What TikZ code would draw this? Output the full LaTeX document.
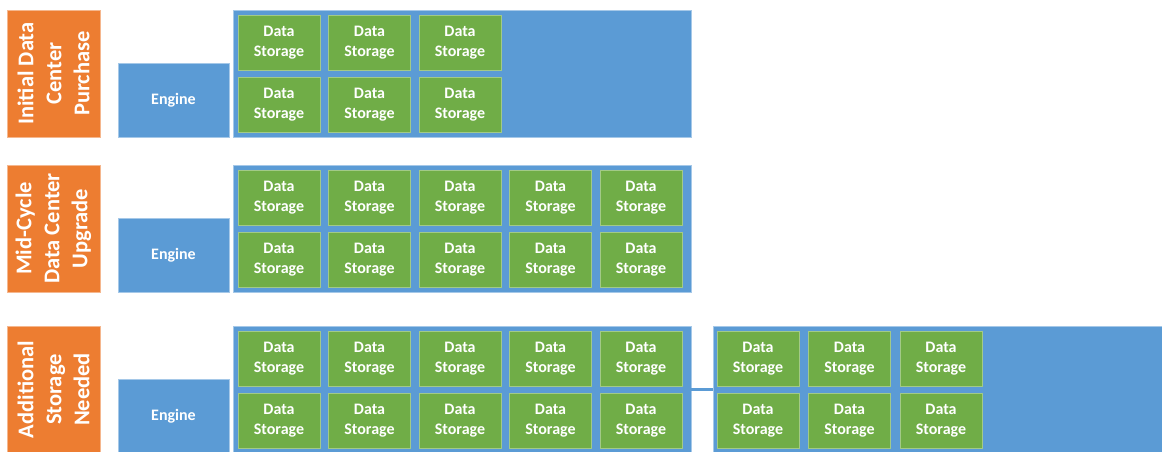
\documentclass[tikz,border=0pt]{standalone}
\usepackage{fontspec}
\setmainfont{Carlito}
\usetikzlibrary{positioning}

\definecolor{phase}{HTML}{ED7D31}
\definecolor{rack}{HTML}{5B9BD5}
\definecolor{disk}{HTML}{70AD47}

\tikzset{
  phasebox/.style={fill=phase, draw=phase!55!white, line width=0.7pt,
    rotate=90, minimum width=127pt, minimum height=93pt, inner sep=0pt,
    text=white, align=center, font=\bfseries\fontsize{22.5}{28}\selectfont},
  enginebox/.style={fill=rack, draw=rack!55!white, line width=0.7pt,
    minimum width=111pt, minimum height=74pt, inner sep=0pt,
    text=white, font=\bfseries\fontsize{16}{19}\selectfont},
  shelfbox/.style={fill=rack, draw=rack!55!white, line width=0.7pt,
    minimum height=127pt, inner sep=0pt},
  diskbox/.style={fill=disk, draw=disk!65!white, line width=0.6pt,
    minimum width=82pt, minimum height=55pt, inner sep=0pt,
    text=white, align=center, font=\bfseries\fontsize{16}{20}\selectfont},
}

\begin{document}
\begin{tikzpicture}[x=1pt,y=-1pt]
\useasboundingbox (0,0) rectangle (1162,451);
\clip (0,0) rectangle (1162,451);

% one band per phase: label, engine, shelf of storage
\foreach \r/\dy/\ncol/\lbl in {1/0/3/{Initial Data\\Center\\Purchase},
                              2/155/5/{Mid-Cycle\\Data Center\\Upgrade},
                              3/316/5/{Additional\\Storage\\Needed}}{
  \node[phasebox] (phase\r) at (53.5,73.5+\dy) {\lbl};
  \node[enginebox] (engine\r) at (173.5,100+\dy) {Engine};
  \node[shelfbox, minimum width=458pt] (shelf\r) at (462,73.5+\dy) {};
  % the disks sit in two rows
  \foreach \c in {1,...,\ncol}{
    \node[diskbox] (disk\r-\c-a) at (279+90.5*\c-90.5,42.5+\dy) {Data\\Storage};
    \node[diskbox] (disk\r-\c-b) at (279+90.5*\c-90.5,104.5+\dy) {Data\\Storage};
  }
}

% extra shelf added in the last band
\node[shelfbox, minimum width=470pt] (extra) at (948,389.5) {};
\foreach \c in {1,2,3}{
  \node[diskbox] (xdisk\c-a) at (758+91.5*\c-91.5,358.5) {Data\\Storage};
  \node[diskbox] (xdisk\c-b) at (758+91.5*\c-91.5,420.5) {Data\\Storage};
}
\draw[rack, line width=3pt] (shelf3.east) -- (extra.west);
\end{tikzpicture}
\end{document}
